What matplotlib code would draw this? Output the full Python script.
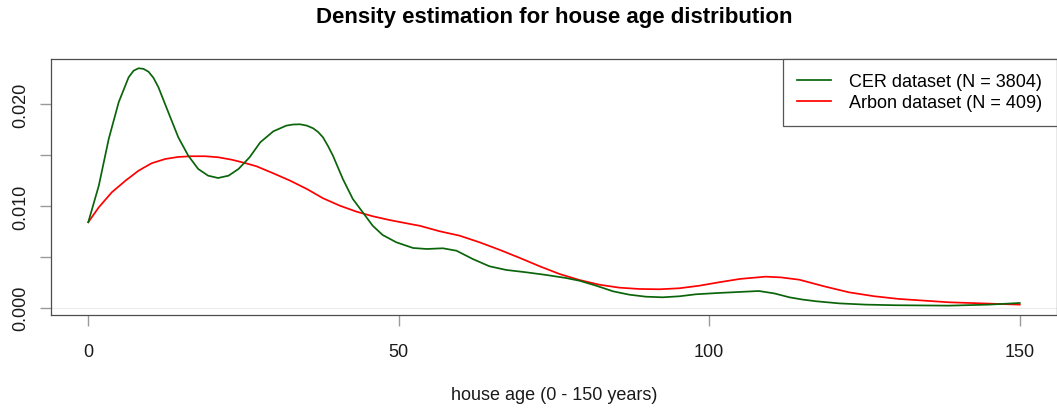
import matplotlib
matplotlib.use("Agg")
import matplotlib.pyplot as plt

# --- data (house age in years, kernel density) ---
cer_age = [0, 1.7, 3.3, 4.9, 6.5, 7.3, 8.1, 8.9, 9.7, 10.5, 11.3, 12.9, 14.5,
           16.1, 17.7, 19.3, 20.9, 22.6, 24.2, 26.0, 27.7, 29.8, 31.9, 33.0,
           34.1, 35.2, 36.2, 37.0, 37.8, 38.6, 39.4, 41.0, 42.6, 44.2, 45.8,
           47.4, 49.6, 52.3, 54.5, 57.1, 59.3, 61.9, 64.6, 67.3, 70.5, 73.7,
           76.9, 79.1, 81.8, 84.5, 87.1, 89.8, 92.5, 95.2, 97.9, 101.6, 105,
           108, 110.5, 112.9, 115, 117.2, 121, 125.2, 130, 138.6, 145, 150]
cer_density = [0.0084, 0.0120, 0.0166, 0.0202, 0.02265, 0.02330, 0.02354,
               0.02348, 0.0232, 0.0226, 0.02167, 0.0192, 0.01675, 0.01495,
               0.01364, 0.01298, 0.01275, 0.01298, 0.01364, 0.0148, 0.01626,
               0.01734, 0.0179, 0.01801, 0.01803, 0.0179, 0.01764, 0.01728,
               0.01675, 0.0159, 0.01495, 0.01265, 0.01069, 0.00938, 0.00806,
               0.00715, 0.00643, 0.00587, 0.00577, 0.00584, 0.0056, 0.00479,
               0.00407, 0.00371, 0.00348, 0.00322, 0.00292, 0.00265, 0.00216,
               0.00161, 0.00128, 0.00108, 0.00102, 0.00112, 0.00132, 0.00145,
               0.00155, 0.00164, 0.0014, 0.00102, 0.0008, 0.00063, 0.00042,
               0.0003, 0.00024, 0.0002, 0.0003, 0.00046]

arbon_age = [0, 1.7, 3.8, 6.0, 8.1, 10.2, 12.4, 14.5, 16.6, 18.8, 20.9, 23.1,
             25.2, 27.1, 29.8, 32.5, 35.2, 37.8, 40.5, 43.2, 45.8, 48.5, 51.8,
             53.4, 56.6, 59.8, 63.0, 66.2, 69.5, 72.7, 75.9, 79.1, 82.3, 85.5,
             88.7, 92.0, 95.2, 98.4, 101.6, 105, 109.1, 111.5, 114.5, 118.5,
             122.5, 126.5, 130.5, 138.6, 145, 150]
arbon_density = [0.0084, 0.00987, 0.01135, 0.01249, 0.01347, 0.0142, 0.01462,
                 0.01482, 0.01489, 0.01489, 0.01479, 0.01455, 0.01423, 0.0139,
                 0.01321, 0.01249, 0.01167, 0.01076, 0.01003, 0.00944, 0.00899,
                 0.00862, 0.00823, 0.00805, 0.00751, 0.00708, 0.00643, 0.0057,
                 0.00489, 0.00407, 0.00331, 0.00272, 0.00226, 0.00197, 0.00184,
                 0.00181, 0.00191, 0.00216, 0.0025, 0.00283, 0.00305, 0.00298,
                 0.00275, 0.0021, 0.00151, 0.00113, 0.00086, 0.00053, 0.0004,
                 0.0003]

x_ticks = [0, 50, 100, 150]
y_ticks = [0.000, 0.005, 0.010, 0.015, 0.020]
y_labels = ["0.000", "", "0.010", "", "0.020"]

plt.rcParams['font.family'] = ['Liberation Sans', 'DejaVu Sans']

W, H = 1057, 410
fig = plt.figure(figsize=(W / 100, H / 100), dpi=100)
ax = fig.add_axes([51 / W, 94 / H, 1006 / W, 256 / H])

# R draws a thin grey zero line under density curves
ax.axhline(0, color='#ececec', lw=0.8, zorder=1)
ax.plot(cer_age, cer_density, color='#0a640a', lw=1.25,
        solid_joinstyle='round', label='CER dataset (N = 3804)', zorder=3)
ax.plot(arbon_age, arbon_density, color='#ff0000', lw=1.25,
        solid_joinstyle='round', label='Arbon dataset (N = 409)', zorder=2)

ax.set_xlim(-6, 156)
ax.set_ylim(-0.00072, 0.02445)

ax.set_xticks(x_ticks)
ax.set_yticks(y_ticks)
ax.set_yticklabels(y_labels, rotation=90, va='center')
ax.tick_params(axis='both', direction='out', length=8, width=1,
               color='#9a9a9a', labelsize=13, labelcolor='#1a1a1a')
ax.tick_params(axis='x', pad=12)
ax.tick_params(axis='y', pad=8)

for sp in ax.spines.values():
    sp.set_color('#4d4d4d')
    sp.set_linewidth(0.9)

ax.set_xlabel('house age (0 - 150 years)', fontsize=13, color='#1a1a1a',
              labelpad=19)
fig.suptitle('Density estimation for house age distribution', fontsize=16,
             fontweight='bold', x=554 / W, y=1 - 17 / H, va='center')

leg = ax.legend(loc='upper right', fontsize=13, frameon=True, fancybox=False,
                edgecolor='#555555', framealpha=1, borderaxespad=0,
                borderpad=0.8, handlelength=1.9, handletextpad=1.0,
                labelspacing=0.2)
leg.get_frame().set_linewidth(0.9)

fig.savefig('out.png', dpi=100)
